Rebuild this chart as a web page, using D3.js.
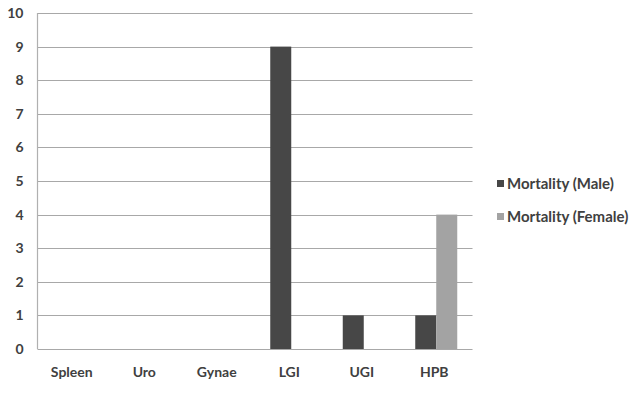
<!DOCTYPE html>
<html>
<head>
<meta charset="utf-8">
<script src="https://cdn.jsdelivr.net/npm/d3@7"></script>
<style>
  html, body { margin: 0; padding: 0; background: #fff; }
  svg { display: block; }
  text { font-family: Lato, "Liberation Sans", Arial, sans-serif; }
</style>
</head>
<body>
<svg id="chart" width="633" height="394"></svg>
<script>
// Mortality counts by specialty
const categories = ["Spleen", "Uro", "Gynae", "LGI", "UGI", "HPB"];
const seriesNames = ["Mortality (Male)", "Mortality (Female)"];
const maleValues = [0, 0, 0, 9, 1, 1];
const femaleValues = [0, 0, 0, 0, 0, 4];
const yTicks = [0, 1, 2, 3, 4, 5, 6, 7, 8, 9, 10];
const seriesColors = ["#474747", "#a3a3a3"];

const svg = d3.select("#chart");
const margin = { left: 37.5, right: 160.5, top: 13, bottom: 45 };
const W = 633, H = 394;

const x = d3.scaleBand().domain(categories)
  .range([margin.left, W - margin.right]).paddingInner(0).paddingOuter(0);
const y = d3.scaleLinear().domain([0, 10]).range([H - margin.bottom, margin.top]);
const barW = 21;

// gridlines
svg.append("g").selectAll("line").data(yTicks).join("line")
  .attr("x1", margin.left).attr("x2", W - margin.right)
  .attr("y1", d => Math.round(y(d)) + 0.5).attr("y2", d => Math.round(y(d)) + 0.5)
  .attr("stroke", "#a8a8a8").attr("stroke-width", 1.2);

// left axis line
svg.append("line")
  .attr("x1", margin.left).attr("x2", margin.left)
  .attr("y1", y(10)).attr("y2", y(0))
  .attr("stroke", "#b0b0b0").attr("stroke-width", 1.2);

// y tick labels
const yAxis = d3.axisLeft(y).tickValues(yTicks).tickSize(0).tickPadding(14).tickFormat(d3.format("d"));
const gy = svg.append("g").attr("transform", `translate(${margin.left},0)`).call(yAxis);
gy.select(".domain").remove();
gy.selectAll("text").attr("font-size", 14).attr("font-weight", "bold").attr("fill", "#404040");

// x tick labels
const xAxis = d3.axisBottom(x).tickSize(0).tickPadding(18);
const gx = svg.append("g").attr("transform", `translate(0,${y(0)})`).call(xAxis);
gx.select(".domain").remove();
gx.selectAll("text").attr("font-size", 14).attr("font-weight", "bold").attr("fill", "#404040")
  .attr("dx", -2);

// bars
const series = [maleValues, femaleValues];
const gBars = svg.append("g");
series.forEach((vals, si) => {
  gBars.selectAll(null).data(categories).join("rect")
    .attr("x", c => x(c) + x.bandwidth() / 2 - barW + si * barW)
    .attr("width", barW)
    .attr("y", (c, i) => y(vals[i]))
    .attr("height", (c, i) => y(0) - y(vals[i]))
    .attr("fill", seriesColors[si]);
});

// legend
const legend = svg.append("g").attr("transform", "translate(497,184)");
seriesNames.forEach((name, i) => {
  const g = legend.append("g").attr("transform", `translate(0,${i * 33})`);
  g.append("rect").attr("x", 0).attr("y", -4).attr("width", 7).attr("height", 7).attr("fill", seriesColors[i]);
  g.append("text").attr("x", 10).attr("y", 0).attr("dy", "0.35em")
    .attr("font-size", 15).attr("font-weight", "bold").attr("fill", "#404040").text(name);
});
</script>
</body>
</html>
